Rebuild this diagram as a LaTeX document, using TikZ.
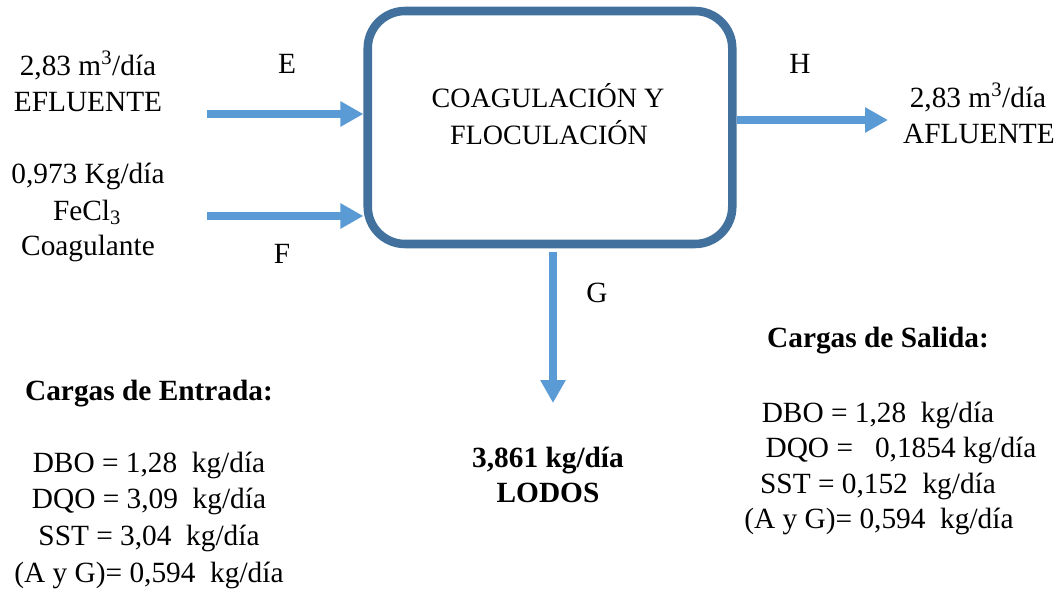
\documentclass[tikz,border=0pt]{standalone}
\usepackage{fontspec}
\setmainfont{Liberation Serif}
\usetikzlibrary{arrows.meta}
\definecolor{boxblue}{HTML}{41719C}
\definecolor{flowblue}{HTML}{5B9BD5}
\begin{document}
\begin{tikzpicture}[x=0.75pt,y=-0.75pt,
  txt/.style={anchor=base, inner sep=0pt, font=\fontsize{22}{27}\selectfont},
  btxt/.style={anchor=base, inner sep=0pt, font=\fontsize{22}{27}\selectfont\bfseries},
  flow/.style={color=flowblue, line width=6pt, -{Triangle[length=17.25pt,width=18pt]}},
  procbox/.style={draw=boxblue, line width=6.4pt, rounded corners=28pt,
    minimum width=273.4pt, minimum height=174.75pt, inner sep=0pt}]
\useasboundingbox (0,0) rectangle (1059,589);

% process unit
\node[procbox] (proc) at (550,127.5) {};
\node[txt, font=\fontsize{21}{26}\selectfont] (p1) at (548,107) {COAGULACIÓN Y};
\node[txt, font=\fontsize{21}{26}\selectfont] (p2) at (549,144) {FLOCULACIÓN};

% incoming streams
\node[txt] (in1a) at (88,75) {2,83 m\textsuperscript{3}/día};
\node[txt] (in1b) at (88,111) {EFLUENTE};
\node[txt] (in2a) at (88,183) {0,973 Kg/día};
\node[txt] (in2b) at (87,220) {FeCl\textsubscript{3}};
\node[txt] (in2c) at (88,255) {Coagulante};

% stream labels
\node[txt] (lE) at (287,73) {E};
\node[txt] (lF) at (282,263) {F};
\node[txt] (lH) at (800,73) {H};
\node[txt] (lG) at (597,302) {G};

% outgoing stream
\node[txt] (out1) at (978,107) {2,83 m\textsuperscript{3}/día};
\node[txt] (out2) at (979,143) {AFLUENTE};

% sludge
\node[btxt] (s1) at (548,467) {3,861 kg/día};
\node[btxt] (s2) at (548,502) {LODOS};

% inlet loads
\node[btxt] (ce0) at (149,400) {Cargas de Entrada:};
\node[txt] (ce1) at (149,472) {DBO = 1,28~ kg/día};
\node[txt] (ce2) at (149,508) {DQO = 3,09~ kg/día};
\node[txt] (ce3) at (149,545) {SST = 3,04~ kg/día};
\node[txt] (ce4) at (149,582) {(A y G)= 0,594~ kg/día};

% outlet loads
\node[btxt] (cs0) at (878,347) {Cargas de Salida:};
\node[txt] (cs1) at (878,422) {DBO = 1,28~ kg/día};
\node[txt] (cs2) at (901,457) {DQO =~~ 0,1854 kg/día};
\node[txt] (cs3) at (878,493) {SST = 0,152~ kg/día};
\node[txt] (cs4) at (879,528) {(A y G)= 0,594~ kg/día};

% flows
\coordinate (eS) at (207,114);
\coordinate (fS) at (207,216);
\coordinate (hE) at (888,120);
\coordinate (gE) at (553,403);
\draw[flow] (eS) -- (eS -| proc.west);
\draw[flow] (fS) -- (fS -| proc.west);
\draw[flow] (hE -| proc.east) -- (hE);
\draw[flow, shorten <=3pt] (gE |- proc.south) -- (gE);
\end{tikzpicture}
\end{document}
